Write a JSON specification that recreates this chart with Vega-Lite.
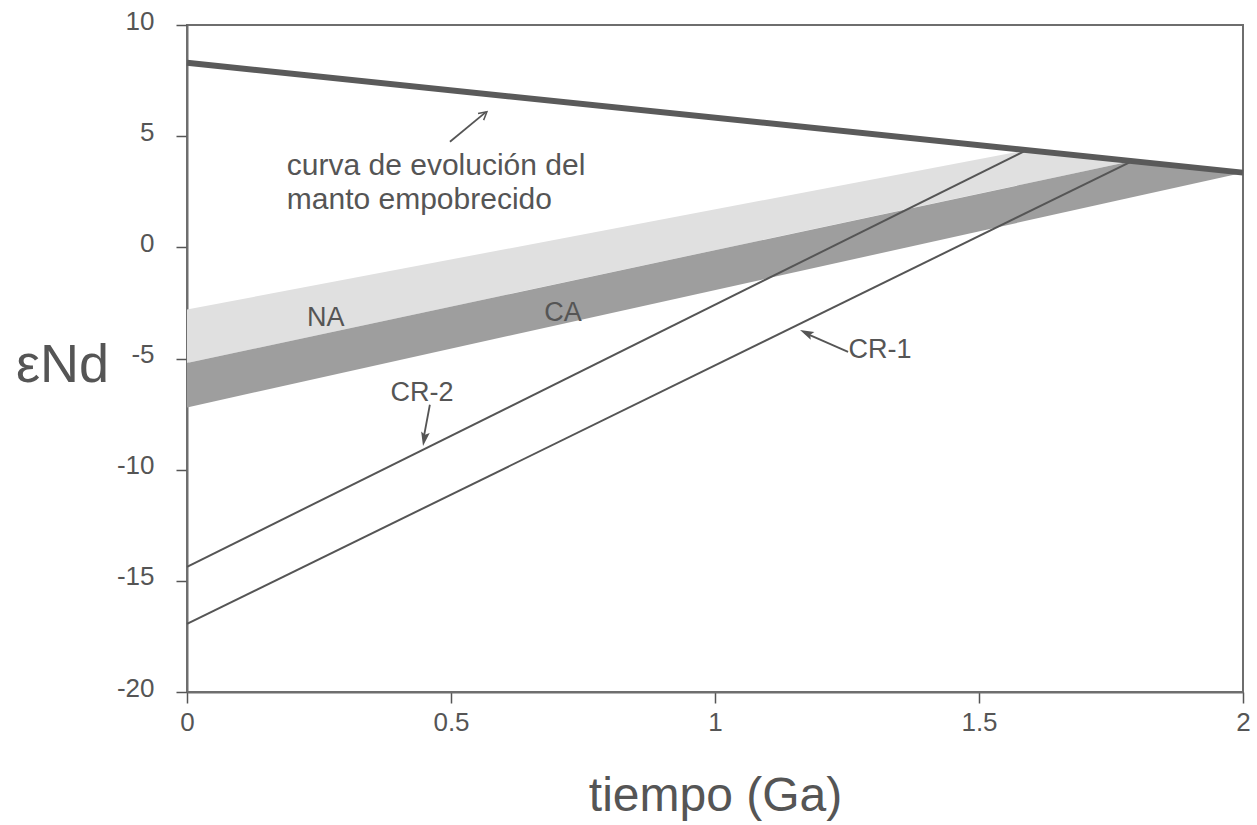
{
  "$schema": "https://vega.github.io/schema/vega-lite/v6.json",
  "width": 1056,
  "height": 667,
  "autosize": "none",
  "padding": {"left": 187, "top": 25, "right": 14, "bottom": 133},
  "background": "white",
  "config": {
    "font": "Liberation Sans",
    "view": {"stroke": "#6e6e6e", "strokeWidth": 2}
  },
  "encoding": {
    "x": {
      "field": "t", "type": "quantitative",
      "scale": {"domain": [0, 2], "nice": false, "zero": false},
      "axis": {
        "title": "tiempo (Ga)", "values": [0, 0.5, 1, 1.5, 2], "grid": false,
        "labelExpr": "'' + datum.value", "labelFontSize": 26, "labelColor": "#555555",
        "labelPadding": 6, "labelFlush": false, "labelOverlap": false,
        "tickSize": 11, "tickColor": "#555555", "tickWidth": 1.5,
        "domainColor": "#6e6e6e", "domainWidth": 2,
        "titleFontSize": 48, "titleFontWeight": "normal", "titleColor": "#555555",
        "titleBaseline": "alphabetic", "titleY": 118
      }
    },
    "y": {
      "field": "e", "type": "quantitative",
      "scale": {"domain": [-20, 10], "nice": false, "zero": false},
      "axis": {
        "title": "εNd", "values": [-20, -15, -10, -5, 0, 5, 10], "grid": false,
        "labelExpr": "'' + datum.value", "labelFontSize": 26, "labelColor": "#555555",
        "labelPadding": 22, "labelFlush": false, "labelOverlap": false, "labelOffset": -4,
        "tickSize": 11, "tickColor": "#555555", "tickWidth": 1.5,
        "domainColor": "#6e6e6e", "domainWidth": 2,
        "titleFontSize": 54, "titleFontWeight": "normal", "titleColor": "#555555",
        "titleAngle": 0, "titleAlign": "center", "titleBaseline": "middle",
        "titleX": -125, "titleY": 340
      }
    }
  },
  "layer": [
    {
      "data": {"values": [
        {"t": 0, "e": -2.8, "e2": -5.2},
        {"t": 1.59, "e": 4.37, "e2": 2.87},
        {"t": 1.79, "e": 3.88, "e2": 3.88}
      ]},
      "mark": {"type": "area", "color": "#e0e0e0"},
      "encoding": {"y2": {"field": "e2"}}
    },
    {
      "data": {"values": [
        {"t": 0, "e": -5.2, "e2": -7.2},
        {"t": 1.79, "e": 3.88, "e2": 2.25},
        {"t": 2, "e": 3.36, "e2": 3.36}
      ]},
      "mark": {"type": "area", "color": "#9e9e9e"},
      "encoding": {"y2": {"field": "e2"}}
    },
    {
      "data": {"values": [
        {"s": "CR-2", "t": 0, "e": -14.37},
        {"s": "CR-2", "t": 1.59, "e": 4.37},
        {"s": "CR-1", "t": 0, "e": -16.94},
        {"s": "CR-1", "t": 1.79, "e": 3.88}
      ]},
      "mark": {"type": "line", "color": "#555555", "strokeWidth": 2},
      "encoding": {"detail": {"field": "s"}}
    },
    {
      "data": {"values": [
        {"s": "manto", "t": 0, "e": 8.3},
        {"s": "manto", "t": 2, "e": 3.36}
      ]},
      "mark": {"type": "line", "color": "#5a5a5a", "strokeWidth": 6},
      "encoding": {"detail": {"field": "s"}}
    },
    {
      "data": {"values": [
        {"a": "manto", "t": 0.498, "e": 4.75, "t2": 0.566, "e2": 6.08},
        {"a": "CR-2", "t": 0.460, "e": -7.08, "t2": 0.448, "e2": -8.6},
        {"a": "CR-1", "t": 1.252, "e": -4.70, "t2": 1.17, "e2": -3.85}
      ]},
      "mark": {"type": "rule", "color": "#555555", "strokeWidth": 1.8},
      "encoding": {"x2": {"field": "t2"}, "y2": {"field": "e2"}}
    },
    {
      "data": {"values": [{"t": 0.568, "e": 6.10}]},
      "mark": {"type": "point", "shape": "M-0.55,1L0,0L0.55,1", "filled": false, "stroke": "#555555", "strokeWidth": 1.5, "size": 250, "angle": 50, "opacity": 1}
    },
    {
      "data": {"values": [{"t": 0.447, "e": -8.93}]},
      "mark": {"type": "point", "shape": "M0,0L-0.5,1.6L0,1.3L0.5,1.6Z", "filled": true, "color": "#555555", "size": 300, "angle": 190, "opacity": 1}
    },
    {
      "data": {"values": [{"t": 1.161, "e": -3.72}]},
      "mark": {"type": "point", "shape": "M0,0L-0.5,1.6L0,1.3L0.5,1.6Z", "filled": true, "color": "#555555", "size": 300, "angle": 295, "opacity": 1}
    },
    {
      "data": {"values": [
        {"label": "curva de evolución del", "t": 0.189, "e": 3.27},
        {"label": "manto empobrecido", "t": 0.189, "e": 1.74}
      ]},
      "mark": {"type": "text", "align": "left", "baseline": "alphabetic", "fontSize": 30, "color": "#555555"},
      "encoding": {"text": {"field": "label"}}
    },
    {
      "data": {"values": [
        {"label": "NA", "t": 0.263, "e": -3.17},
        {"label": "CA", "t": 0.712, "e": -2.95},
        {"label": "CR-2", "t": 0.445, "e": -6.55},
        {"label": "CR-1", "t": 1.3125, "e": -4.6}
      ]},
      "mark": {"type": "text", "align": "center", "baseline": "middle", "fontSize": 27, "color": "#555555"},
      "encoding": {"text": {"field": "label"}}
    }
  ]
}
